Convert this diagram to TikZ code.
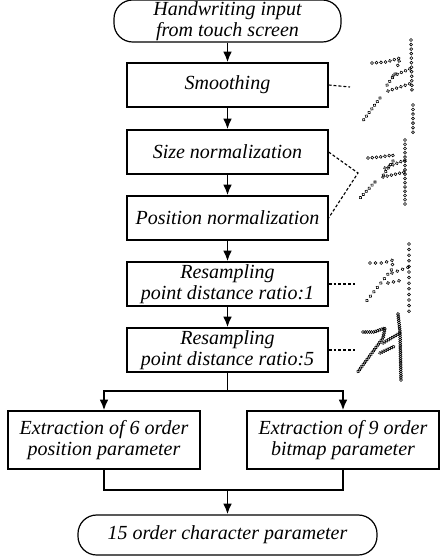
\documentclass[tikz,border=0pt]{standalone}
\usepackage{fontspec}
\setmainfont{Liberation Serif}
\usetikzlibrary{decorations.markings,arrows.meta}

\begin{document}
\begin{tikzpicture}[x=0.75pt,y=-0.75pt,
	every node/.style={font=\fontsize{15}{15.5}\selectfont\itshape,align=center,inner sep=0pt},
	stage/.style={draw,line width=.9pt,minimum width=150.75pt,minimum height=33pt},
	term/.style={draw,line width=.9pt,rounded corners=14pt},
	flow/.style={-{Latex[length=8pt,width=6.5pt]},line width=1.4pt},
	link/.style={line width=1.4pt},
	guide/.style={line width=.85pt,dash pattern=on 2.2pt off 1.5pt},
	pen/.style={decoration={markings,mark=between positions 0 and 1 step #1 with {\draw[line width=.45pt] (0,0) circle (1.1pt);}},postaction={decorate}}]
	\useasboundingbox (0,0) rectangle (440,560);

	% flow chart
	\node[term,minimum width=170.25pt,minimum height=31.5pt] (input) at (227.5,21) {Handwriting input\\from touch screen};
	\node[stage] (smooth) at (227.5,85) {Smoothing};
	\node[stage] (size) at (227.5,152) {Size normalization};
	\node[stage] (pos) at (227.5,218) {Position normalization};
	\node[stage] (res1) at (227.5,284) {Resampling\\point distance ratio:1};
	\node[stage] (res5) at (227.5,350) {Resampling\\point distance ratio:5};
	\node[draw,line width=.9pt,minimum width=144pt,minimum height=43.5pt] (extA) at (104,440) {Extraction of 6 order\\position parameter};
	\node[draw,line width=.9pt,minimum width=144pt,minimum height=43.5pt] (extB) at (343,440) {Extraction of 9 order\\bitmap parameter};
	\node[term,minimum width=224.25pt,minimum height=30pt] (out) at (227.5,535) {15 order character parameter};

	\draw[flow] (input) -- (smooth);
	\draw[flow] (smooth) -- (size);
	\draw[flow] (size) -- (pos);
	\draw[flow] (pos) -- (res1);
	\draw[flow] (res1) -- (res5);
	\coordinate (split) at (227.5,391);
	\coordinate (merge) at (227.5,490);
	\draw[link] (res5) -- (split);
	\draw[flow] (split) -| (extA);
	\draw[flow] (split) -| (extB);
	\draw[link] (extA) |- (merge) -| (extB);
	\draw[flow] (merge) -- (out);

	% dashed pointers
	\coordinate (d1) at (350,87);
	\coordinate (d2) at (358,173);
	\coordinate (d3) at (355,284);
	\coordinate (d4) at (355,350);
	\draw[guide] (smooth.east) -- (d1);
	\draw[guide] (size.east) -- (d2) -- (pos.east);
	\draw[guide] (res1.east) -- (d3);
	\draw[guide] (res5.east) -- (d4);

	% sample characters
	\path[pen=3.4pt] (372,63) -- (386,62) -- (400,58) -- (397,68);
	\path[pen=3.4pt] (395,74) -- (385,88);
	\path[pen=3.4pt] (380,98) -- (362,122);
	\path[pen=3.4pt] (393,76) -- (412,68);
	\path[pen=3.4pt] (388,91) -- (412,83);
	\path[pen=3.4pt] (411,40) -- (412,92);
	\path[pen=3.4pt] (413,105) -- (413,134);

	\path[pen=3.2pt] (368,158) -- (380,157) -- (393,155) -- (392,159);
	\path[pen=3.2pt] (393,161) -- (382,177);
	\path[pen=3.2pt] (375,182) -- (360,198);
	\path[pen=3.2pt] (385,168) -- (405,160);
	\path[pen=3.2pt] (383,177) -- (405,172);
	\path[pen=3.2pt] (405,140) -- (405,205);

	\path[pen=4.2pt] (370,263) -- (383,263) -- (393,260) -- (392,269) -- (365,303);
	\path[pen=4.2pt] (392,273) -- (409,267);
	\path[pen=4.2pt] (388,283) -- (403,280);
	\path[pen=4.2pt] (409,244) -- (409,313);

	\path[pen=1.6pt] (363,332) -- (374,332) -- (385,328) -- (383,338) -- (357,373);
	\path[pen=1.6pt] (383,343) -- (400,333);
	\path[pen=1.6pt] (380,353) -- (395,346);
	\path[pen=1.6pt] (398,314) -- (400,332) -- (401,381);
\end{tikzpicture}
\end{document}
